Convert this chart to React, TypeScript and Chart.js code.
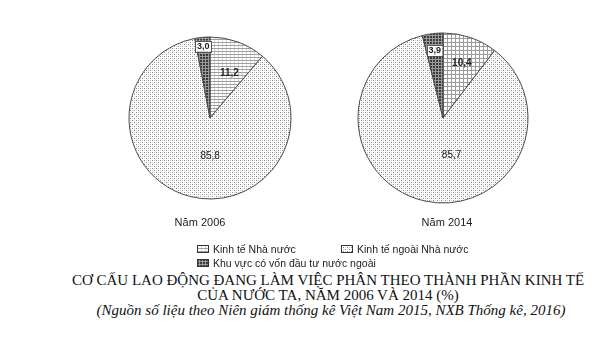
import React, { useEffect, useRef } from "react";
import { Chart, registerables } from "chart.js";
Chart.register(...registerables);

const categories = ["Kinh tế Nhà nước", "Kinh tế ngoài Nhà nước", "Khu vực có vốn đầu tư nước ngoài"];
const years = ["Năm 2006", "Năm 2014"];
const values2006 = [11.2, 85.8, 3.0];
const values2014 = [10.4, 85.7, 3.9];
const valueLabels2006 = ["11,2", "85,8", "3,0"];
const valueLabels2014 = ["10,4", "85,7", "3,9"];
const titleLines = [
  "CƠ CẤU LAO ĐỘNG ĐANG LÀM VIỆC PHÂN THEO THÀNH PHẦN KINH TẾ",
  "CỦA NƯỚC TA, NĂM 2006 VÀ 2014 (%)",
];
const sourceLine = "(Nguồn số liệu theo Niên giám thống kê Việt Nam 2015, NXB Thống kê, 2016)";

type Kind = "hlines" | "grid" | "dots" | "dark";

function makePattern(ctx: CanvasRenderingContext2D, kind: Kind): CanvasPattern | string {
  const c = document.createElement("canvas");
  const g = c.getContext("2d")!;
  if (kind === "dots") {
    c.width = 4; c.height = 4;
    g.fillStyle = "#ffffff"; g.fillRect(0, 0, 4, 4);
    g.fillStyle = "#8a8a8a"; g.fillRect(0, 0, 1, 1); g.fillRect(2, 2, 1, 1);
    g.fillStyle = "#d2d2d2"; g.fillRect(2, 0, 1, 1); g.fillRect(0, 2, 1, 1);
  } else if (kind === "hlines") {
    c.width = 4; c.height = 3;
    g.fillStyle = "#ffffff"; g.fillRect(0, 0, 4, 3);
    g.fillStyle = "#a0a0a0"; g.fillRect(0, 0, 4, 1);
    g.fillStyle = "#d6d6d6"; g.fillRect(0, 1, 1, 2);
  } else if (kind === "grid") {
    c.width = 4; c.height = 4;
    g.fillStyle = "#ffffff"; g.fillRect(0, 0, 4, 4);
    g.fillStyle = "#9a9a9a"; g.fillRect(0, 0, 4, 1); g.fillRect(0, 0, 1, 4);
  } else {
    c.width = 3; c.height = 3;
    g.fillStyle = "#3a3a3a"; g.fillRect(0, 0, 3, 3);
    g.fillStyle = "#9a9a9a"; g.fillRect(0, 2, 3, 1); g.fillRect(2, 0, 1, 3);
  }
  return ctx.createPattern(c, "repeat") || "#ccc";
}

const labelPlugin = {
  id: "sliceLabels",
  afterDatasetsDraw(chart: any, _args: any, opts: any) {
    const meta = chart.getDatasetMeta(0);
    const ctx: CanvasRenderingContext2D = chart.ctx;
    meta.data.forEach((arc: any, i: number) => {
      const p = arc.getProps(["x", "y", "startAngle", "endAngle", "outerRadius"], true);
      const mid = (p.startAngle + p.endAngle) / 2 + (opts.shift[i] * Math.PI) / 180;
      const d = p.outerRadius * opts.dist[i];
      const px = p.x + Math.cos(mid) * d;
      const py = p.y + Math.sin(mid) * d;
      const text = opts.texts[i];
      ctx.save();
      ctx.font = opts.fonts[i];
      ctx.textAlign = "center";
      ctx.textBaseline = "middle";
      if (opts.boxed[i]) {
        const w = ctx.measureText(text).width + 3;
        ctx.fillStyle = "#ffffff";
        ctx.fillRect(px - w / 2, py - 5.5, w, 11);
        ctx.strokeStyle = "#555";
        ctx.lineWidth = 1;
        ctx.strokeRect(Math.round(px - w / 2) + 0.5, Math.round(py - 5.5) + 0.5, Math.round(w), 11);
      }
      ctx.fillStyle = "#222";
      ctx.fillText(text, px, py + 0.5);
      ctx.restore();
    });
  },
};

function Pie(props: {
  values: number[];
  texts: string[];
  radius: number;
  left: number;
  top: number;
  kinds: Kind[];
  dist: number[];
  shift: number[];
}) {
  const ref = useRef<HTMLCanvasElement>(null);
  useEffect(() => {
    const canvas = ref.current!;
    const ctx = canvas.getContext("2d")!;
    const bg = props.kinds.map((k) => makePattern(ctx, k));
    const chart = new Chart(canvas, {
      type: "pie",
      data: {
        labels: categories,
        datasets: [
          {
            data: props.values,
            backgroundColor: bg as any,
            borderColor: "#4a4a4a",
            borderWidth: 1,
            hoverOffset: 0,
          },
        ],
      },
      options: {
        responsive: false,
        animation: false,
        radius: props.radius,
        layout: { padding: 0 },
        events: [],
        plugins: {
          legend: { display: false },
          tooltip: { enabled: false },
          sliceLabels: {
            texts: props.texts,
            dist: props.dist,
            shift: props.shift,
            fonts: ["bold 10px 'Liberation Sans', Arial, sans-serif", "10px 'Liberation Sans', Arial, sans-serif", "bold 9px 'Liberation Sans', Arial, sans-serif"],
            boxed: [false, false, true],
          },
        } as any,
      },
      plugins: [labelPlugin],
    });
    return () => chart.destroy();
  }, []);
  return (
    <canvas
      ref={ref}
      width={200}
      height={200}
      style={{ position: "absolute", left: props.left, top: props.top, width: 200, height: 200 }}
    />
  );
}

function Swatch(props: { kind: Kind; left: number; top: number }) {
  const ref = useRef<HTMLCanvasElement>(null);
  useEffect(() => {
    const c = ref.current!;
    const ctx = c.getContext("2d")!;
    ctx.fillStyle = makePattern(ctx, props.kind) as any;
    ctx.fillRect(0, 0, 12, 8);
    ctx.strokeStyle = "#333";
    ctx.lineWidth = 1;
    ctx.strokeRect(0.5, 0.5, 11, 7);
  }, []);
  return (
    <canvas ref={ref} width={12} height={8} style={{ position: "absolute", left: props.left, top: props.top, width: 12, height: 8 }} />
  );
}

const sans = "'Liberation Sans', Arial, sans-serif";
const serif = "'Liberation Serif', 'Times New Roman', serif";

export default function App() {
  return (
    <div style={{ position: "absolute", left: 0, top: 0, width: 600, height: 348, background: "#ffffff", overflow: "hidden" }}>
      <Pie
        values={values2006}
        texts={valueLabels2006}
        radius={81}
        left={110}
        top={18}
        kinds={["hlines", "dots", "dark"]}
        dist={[0.61, 0.46, 0.89]}
        shift={[3, -15, 0]}
      />
      <Pie
        values={values2014}
        texts={valueLabels2014}
        radius={85}
        left={343}
        top={18}
        kinds={["grid", "dots", "dark"]}
        dist={[0.69, 0.44, 0.8]}
        shift={[0, -25, 0]}
      />
      <div style={{ position: "absolute", left: 150, top: 215, width: 100, textAlign: "center", font: `11px ${sans}`, lineHeight: "14px", color: "#222" }}>
        {years[0]}
      </div>
      <div style={{ position: "absolute", left: 397, top: 215, width: 100, textAlign: "center", font: `11px ${sans}`, lineHeight: "14px", color: "#222" }}>
        {years[1]}
      </div>

      <Swatch kind="hlines" left={197} top={245} />
      <div style={{ position: "absolute", left: 213, top: 242, whiteSpace: "nowrap", font: `10.5px ${sans}`, lineHeight: "14px", color: "#222" }}>
        {categories[0]}
      </div>
      <Swatch kind="dots" left={341} top={245} />
      <div style={{ position: "absolute", left: 357, top: 242, whiteSpace: "nowrap", font: `10.5px ${sans}`, lineHeight: "14px", color: "#222" }}>
        {categories[1]}
      </div>
      <Swatch kind="dark" left={197} top={259} />
      <div style={{ position: "absolute", left: 213, top: 256, whiteSpace: "nowrap", font: `10.5px ${sans}`, lineHeight: "14px", color: "#222" }}>
        {categories[2]}
      </div>

      <div style={{ position: "absolute", left: 28, top: 272, width: 600, textAlign: "center", font: `15px ${serif}`, lineHeight: "16px", color: "#111", whiteSpace: "nowrap" }}>
        {titleLines[0]}
      </div>
      <div style={{ position: "absolute", left: 28, top: 287, width: 600, textAlign: "center", font: `15px ${serif}`, lineHeight: "16px", color: "#111", whiteSpace: "nowrap" }}>
        {titleLines[1]}
      </div>
      <div style={{ position: "absolute", left: 31, top: 302, width: 600, textAlign: "center", font: `italic 15px ${serif}`, lineHeight: "16px", color: "#111", whiteSpace: "nowrap" }}>
        {sourceLine}
      </div>
    </div>
  );
}
